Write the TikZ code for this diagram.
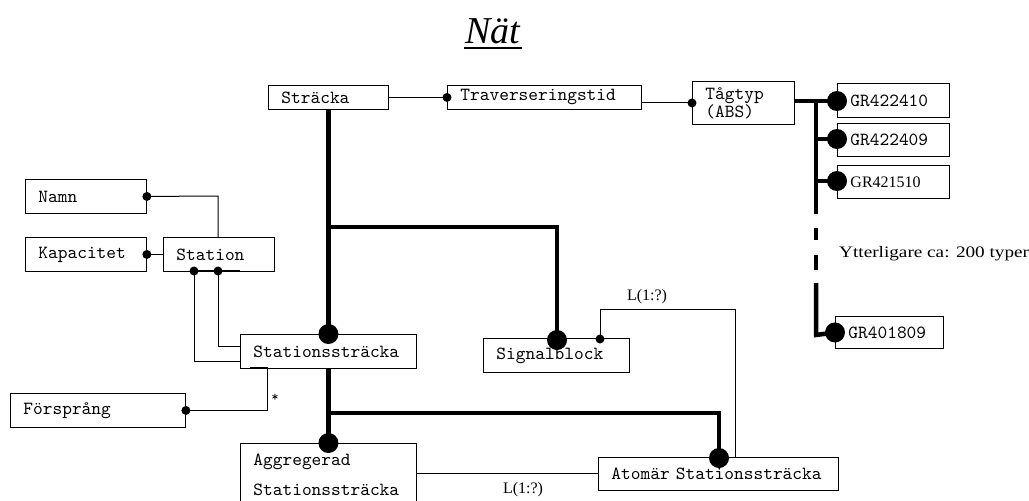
\documentclass[tikz,border=0pt]{standalone}
\usepackage{fontspec}
\setmainfont{Liberation Serif}
\newfontfamily\mono{lmmono10-regular.otf}
\begin{document}
\begin{tikzpicture}[x=1pt,y=-1pt,
  box/.style={draw, line width=0.9pt, anchor=north west, inner ysep=0pt,
    inner xsep=13pt, align=left, font=\mono\fontsize{18.5}{16}\selectfont},
  thin/.style={line width=1pt},
  thick/.style={line width=4.5pt},
  bigdot/.style={circle, fill=black, inner sep=0pt, minimum size=20pt},
  smalldot/.style={circle, fill=black, inner sep=0pt, minimum size=9pt},
  lbl/.style={font=\fontsize{16}{18}\selectfont, inner sep=0pt}]
\useasboundingbox (0,0) rectangle (1029,501);

% title
\node[font=\itshape\fontsize{38}{40}\selectfont, inner sep=0pt] (title) at (493,31) {Nät};
\draw[line width=2.5pt] (464,48) -- (522,48);

% boxes
\node[box, text width=94pt, minimum height=24pt] (strk) at (268,85) {Sträcka};
\node[box, text width=168pt, minimum height=24pt] (trav) at (447,85) {Traverseringstid};
\node[box, text width=76pt, minimum height=43pt] (tag) at (692,81) {\raisebox{-3pt}{Tågtyp}\\\raisebox{-3pt}{(ABS)}};
\node[box, text width=86pt, minimum height=34pt] (gra) at (837,83) {GR422410};
\node[box, text width=86pt, minimum height=33pt] (grb) at (837,123) {GR422409};
\node[box, text width=86pt, minimum height=33pt, font=\fontsize{16}{16}\selectfont] (grc) at (837,165) {GR421510};
\node[box, text width=82pt, minimum height=32pt] (grd) at (835,316) {GR401809};
\node[box, text width=95pt, minimum height=34pt] (namn) at (25,179) {Namn};
\node[box, text width=95pt, minimum height=34pt] (kap) at (25,237) {Kapacitet};
\node[box, text width=85pt, minimum height=34pt] (stn) at (163,237) {Station};
\node[box, text width=150pt, minimum height=34pt] (sst) at (240,334) {Stationssträcka};
\node[box, text width=149pt, minimum height=34pt] (forsp) at (10,393) {Försprång};
\node[box, text width=120pt, minimum height=34pt] (sig) at (483,338) {Signalblock};
\node[box, text width=150pt, minimum height=62pt,
  font=\mono\fontsize{18.5}{30}\selectfont] (agg) at (240,443) {Aggregerad\\Stationssträcka};
\node[box, text width=214pt, minimum height=33pt] (atom) at (598,457) {Atomär Stationssträcka};

% thin connectors
\draw[thin] (strk.east) -- (trav.west);
\node[smalldot] (d1) at (trav.west) {};
\draw[thin] (tag.west -| trav.east) -- (tag.west);
\node[smalldot] (d2) at (tag.west) {};

\coordinate (nk) at (218,196);
\draw[thin] (namn.east) -- (nk) -- (nk |- stn.north);
\node[smalldot] (d3) at (namn.east) {};
\draw[thin] (kap.east) -- (stn.west);
\node[smalldot] (d4) at (kap.east) {};

\coordinate (sa) at (194,271);
\coordinate (sb) at (218,271);
\draw[line width=2pt] (sa) -- (240,271);
\draw[thin] (sa) -- (194,361) -- (194,361 -| sst.west);
\draw[thin] (sb) -- (218,346) -- (218,346 -| sst.west);
\node[smalldot] (d5) at (sa) {};
\node[smalldot] (d6) at (sb) {};

\coordinate (fk) at (267,367);
\draw[thin] (250,367) -- (fk) -- (fk |- forsp.east) -- (forsp.east);
\node[smalldot] (d7) at (forsp.east) {};
\node[font=\mono\fontsize{14}{14}\selectfont, inner sep=0pt] (star) at (275,398) {*};

\coordinate (sk) at (600,339);
\draw[thin] (sk) -- (600,309) -- (735,309) -- (735,309 |- atom.north) -- (752,457);
\node[smalldot] (d8) at (sk) {};
\node[lbl] (l1) at (647,297) {L(1:?)};

\draw[thin] (agg.east |- atom.west) -- (atom.west);
\node[lbl] (l2) at (523,490) {L(1:?)};

% thick connectors
\coordinate (t1) at (strk.south |- 0,227);
\draw[thick] (strk.south) -- (strk.south |- sst.north);
\draw[thick] (t1) -- (557,227) -- (557,340);
\node[bigdot] (b1) at (strk.south |- sst.north) {};
\node[bigdot] (b2) at (557,340) {};

\coordinate (t2) at (strk.south |- 0,413);
\draw[thick] (strk.south |- sst.south) -- (strk.south |- agg.north);
\draw[thick] (t2) -- (719,413) -- (719,458);
\node[bigdot] (b3) at (strk.south |- agg.north) {};
\node[bigdot] (b4) at (719,458) {};

\coordinate (v0) at (816,101);
\draw[thick] (tag.east |- v0) -- (gra.west |- v0);
\draw[thick] (v0) -- (816,214);
\draw[thick] (816,228) -- (816,240);
\draw[thick] (816,255) -- (816,270);
\draw[thick] (816,283) -- (816,335) -- (grd.west);
\draw[thick] (816,139) -- (grb.west |- 0,139);
\draw[thick] (816,181) -- (grc.west |- 0,181);
\node[bigdot] (g1) at (gra.west |- v0) {};
\node[bigdot] (g2) at (grb.west |- 0,139) {};
\node[bigdot] (g3) at (grc.west |- 0,181) {};
\node[bigdot] (g4) at (grd.west) {};

\node[lbl, anchor=west, xscale=1.2, transform shape] (ytt) at (839,254) {Ytterligare ca: 200 typer};
\end{tikzpicture}
\end{document}
